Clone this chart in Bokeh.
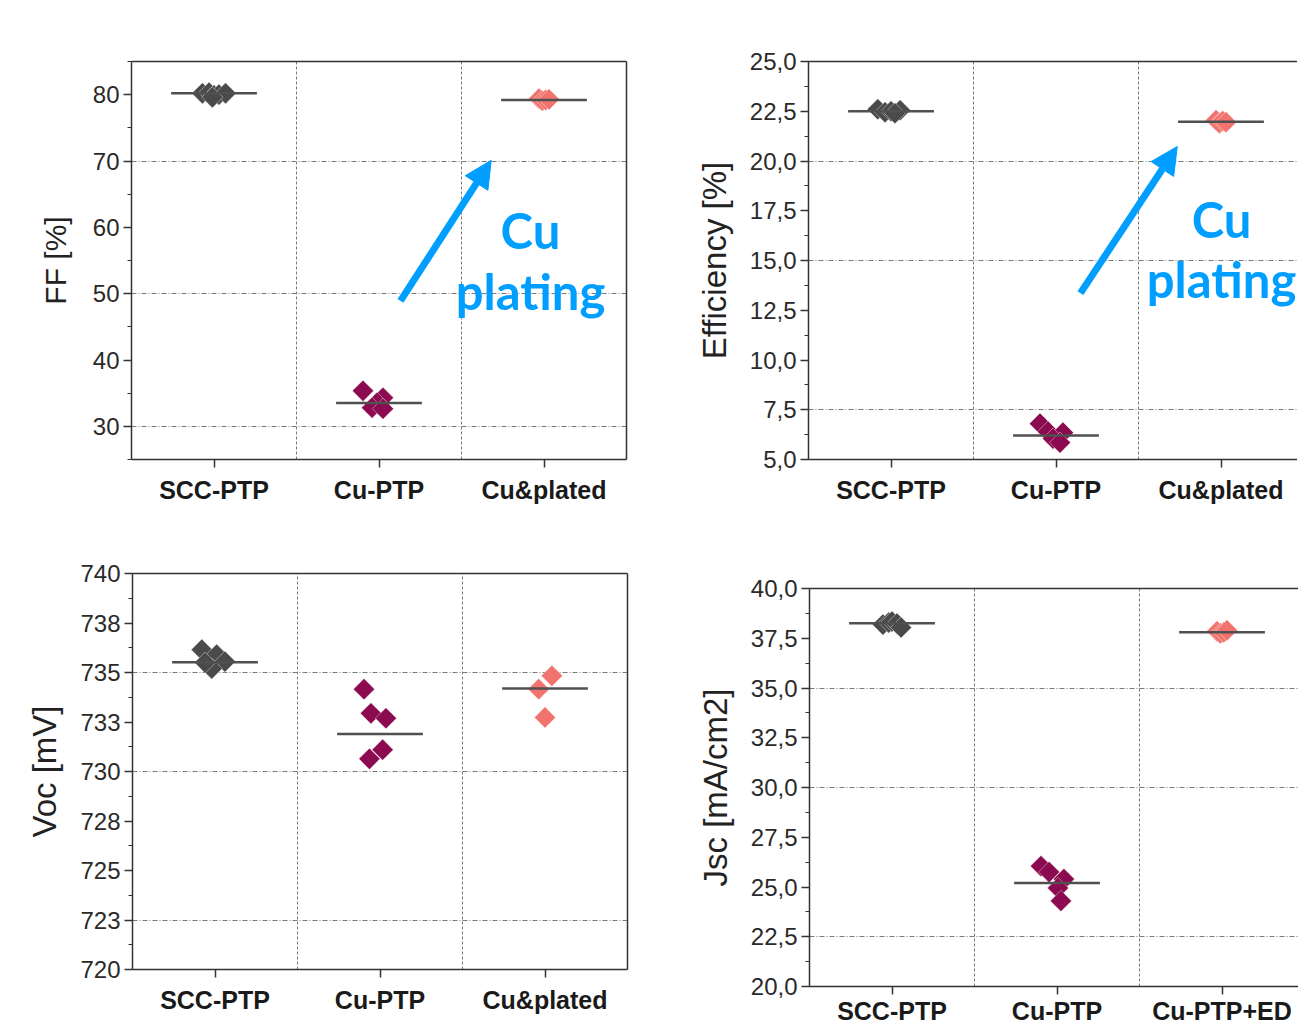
import numpy as np
from bokeh.plotting import figure
from bokeh.models import (Range1d, FixedTicker, SingleIntervalTicker, LinearAxis,
                          CustomJSTickFormatter, Label, Arrow, NormalHead, Spacer)
from bokeh.layouts import column, row
from bokeh.embed import file_html
from bokeh.resources import INLINE

# ---------------- data ----------------
groups_a = ["SCC-PTP", "Cu-PTP", "Cu&plated"]
groups_b = ["SCC-PTP", "Cu-PTP", "Cu-PTP+ED"]

# FF [%]
ff_scc = [80.2, 80.3, 79.9, 80.0, 80.2, 79.6]
ff_cu = [35.35, 34.3, 33.55, 32.8, 32.65]
ff_pl = [79.4, 79.1, 79.2, 79.3]
ff_med = [80.2, 33.5, 79.2]
ff_scc_jit = [-0.07, -0.03, 0.0, 0.03, 0.07, -0.01]
ff_cu_jit = [-0.097, 0.024, -0.012, -0.042, 0.024]
ff_pl_jit = [-0.03, -0.01, 0.01, 0.03]

# Efficiency [%]
eff_scc = [22.6, 22.45, 22.5, 22.55, 22.4]
eff_cu = [6.8, 6.4, 6.35, 6.05, 5.85]
eff_pl = [22.05, 21.9, 22.0, 21.95]
eff_med = [22.5, 6.2, 21.97]
eff_scc_jit = [-0.08, -0.036, 0.0, 0.055, 0.024]
eff_cu_jit = [-0.097, -0.048, 0.042, -0.018, 0.024]
eff_pl_jit = [-0.03, -0.01, 0.01, 0.03]

# Voc [mV]
voc_scc = [736.15, 735.9, 735.55, 735.2, 735.5]
voc_cu = [734.16, 732.94, 732.69, 731.1, 730.64]
voc_pl = [734.83, 734.16, 732.73]
voc_med = [735.52, 731.9, 734.19]
voc_scc_jit = [-0.08, 0.01, 0.06, -0.02, -0.06]
voc_cu_jit = [-0.097, -0.055, 0.036, 0.016, -0.064]
voc_pl_jit = [0.042, -0.038, 0.0]

# Jsc [mA/cm2]
jsc_scc = [38.19, 38.29, 38.34, 38.24, 38.04]
jsc_cu = [26.05, 25.75, 25.4, 24.95, 24.3]
jsc_ed = [37.85, 37.75, 37.8, 37.9]
jsc_med = [38.25, 25.2, 37.8]
jsc_scc_jit = [-0.055, -0.02, 0.0, 0.03, 0.055]
jsc_cu_jit = [-0.097, -0.048, 0.042, 0.006, 0.024]
jsc_ed_jit = [-0.03, -0.01, 0.01, 0.03]

# grid positions seen in the picture
ff_grid = [30, 50, 70]
eff_grid = [7.5, 15, 20]
voc_grid = [722.5, 730, 735]
jsc_grid = [22.5, 30, 35]

# ---------------- style ----------------
COLORS = ["#4a4a4a", "#8c0a4f", "#f0736e"]
BLUE = "#009fff"
AXC = "#333333"
FONT = "Liberation Sans"
PX = 165.0  # pixels per category


def frame_axis(p, loc):
    ax = LinearAxis(ticker=FixedTicker(ticks=[]),
                    major_tick_line_color=None, minor_tick_line_color=None,
                    axis_line_color=AXC, axis_line_width=1.5)
    p.add_layout(ax, loc)


def make_panel(vals, jits, meds, names, yr, interval, fmt_code, grid, title, title_size,
               fw, fh, L, R, T, B, right_line=True, title_standoff=14, xlabel_standoff=8):
    xend = 0.5 + fw / PX
    p = figure(frame_width=fw, frame_height=fh, min_border_left=L, min_border_right=R,
               min_border_top=T, min_border_bottom=B,
               x_range=Range1d(0.5, xend), y_range=Range1d(*yr),
               output_backend="svg", toolbar_location=None,
               outline_line_color=None, background_fill_color="white",
               border_fill_color="white")
    # grids
    p.xgrid.ticker = FixedTicker(ticks=[1.5, 2.5])
    p.ygrid.ticker = FixedTicker(ticks=grid)
    p.xgrid.grid_line_color = "#7a7a7a"
    p.xgrid.grid_line_dash = "3 2"
    p.xgrid.grid_line_width = 1
    p.ygrid.grid_line_color = "#7a7a7a"
    p.ygrid.grid_line_dash = "5 2 1 2"
    p.ygrid.grid_line_width = 1

    # y axis
    ya = p.yaxis[0]
    ya.ticker = SingleIntervalTicker(interval=interval, num_minor_ticks=2)
    ya.formatter = CustomJSTickFormatter(code=fmt_code)
    ya.axis_label = title
    ya.axis_label_text_font = FONT
    ya.axis_label_text_font_size = title_size
    ya.axis_label_text_font_style = "normal"
    ya.axis_label_text_color = "#222222"
    ya.axis_label_standoff = title_standoff
    ya.major_label_text_font = FONT
    ya.major_label_text_font_size = "24px"
    ya.major_label_text_color = "#2a2a2a"
    ya.major_label_standoff = 4
    ya.major_tick_out = 8
    ya.major_tick_in = 0
    ya.minor_tick_out = 4
    ya.minor_tick_in = 0
    ya.axis_line_color = AXC
    ya.axis_line_width = 1.5
    ya.major_tick_line_color = AXC
    ya.major_tick_line_width = 1.5
    ya.minor_tick_line_color = AXC
    ya.minor_tick_line_width = 1.2

    # x axis
    xa = p.xaxis[0]
    xa.ticker = FixedTicker(ticks=[1, 2, 3])
    xa.formatter = CustomJSTickFormatter(args=dict(names=names),
                                         code="return names[Math.round(tick) - 1];")
    xa.major_label_text_font = FONT
    xa.major_label_text_font_style = "bold"
    xa.major_label_text_font_size = "25px"
    xa.major_label_text_color = "#1a1a1a"
    xa.major_label_standoff = xlabel_standoff
    xa.major_tick_out = 8
    xa.major_tick_in = 0
    xa.minor_tick_line_color = None
    xa.axis_line_color = AXC
    xa.axis_line_width = 1.5
    xa.major_tick_line_color = AXC
    xa.major_tick_line_width = 1.5

    frame_axis(p, "above")
    if right_line:
        frame_axis(p, "right")

    # points
    for i, (v, j) in enumerate(zip(vals, jits)):
        xs = [i + 1 + d for d in j]
        p.scatter(xs, v, marker="square", angle=np.pi / 4, size=15,
                  fill_color=COLORS[i], line_color="white", line_width=0.8, line_alpha=0.5)
    # median lines
    cx = np.arange(1, len(meds) + 1)
    p.segment(x0=cx - 0.26, x1=cx + 0.26, y0=meds, y1=meds, line_color="#505050",
              line_width=2.5)
    return p


def annotate(p, x0, y0, x1, y1, tx, ty_cu, ty_pl):
    p.add_layout(Arrow(end=NormalHead(size=27, fill_color=BLUE, line_color=BLUE),
                       x_start=x0, y_start=y0, x_end=x1, y_end=y1,
                       line_color=BLUE, line_width=7))
    for t, ty in (("Cu", ty_cu), ("plating", ty_pl)):
        p.add_layout(Label(x=tx, y=ty, text=t, text_font="Lato", text_font_style="bold",
                           text_font_size="49px", text_color=BLUE, text_align="center",
                           text_baseline="alphabetic"))


int_fmt = "return tick.toFixed(0);"
comma_fmt = "return tick.toFixed(1).replace('.', ',');"
round_fmt = "return Math.round(tick).toString();"

p1 = make_panel([ff_scc, ff_cu, ff_pl], [ff_scc_jit, ff_cu_jit, ff_pl_jit], ff_med,
                groups_a, (25, 85), 10, int_fmt, ff_grid, "FF [%]", "30px",
                495, 398, 131, 60, 61, 50, title_standoff=18)
p2 = make_panel([eff_scc, eff_cu, eff_pl], [eff_scc_jit, eff_cu_jit, eff_pl_jit], eff_med,
                groups_a, (5, 25), 2.5, comma_fmt, eff_grid, "Efficiency [%]", "33px",
                489, 398, 122, 0, 61, 50, right_line=False)
p3 = make_panel([voc_scc, voc_cu, voc_pl], [voc_scc_jit, voc_cu_jit, voc_pl_jit], voc_med,
                groups_a, (720, 740), 2.5, round_fmt, voc_grid, "Voc [mV]", "33px",
                495, 396, 132, 59, 64, 56)
p4 = make_panel([jsc_scc, jsc_cu, jsc_ed], [jsc_scc_jit, jsc_cu_jit, jsc_ed_jit], jsc_med,
                groups_b, (20, 40), 2.5, comma_fmt, jsc_grid, "Jsc [mA/cm2]", "33px",
                489, 398, 123, 0, 64, 38, right_line=False, xlabel_standoff=2)

annotate(p1, 2.13, 48.9, 2.68, 70.1, 2.918, 59.6, 50.4)
annotate(p2, 2.148, 13.36, 2.735, 20.73, 3.003, 17.1, 14.05)

layout = column(row(p1, p2),
                row(column(p3), column(Spacer(width=10, height=15), p4)))

open("out.html", "w").write(file_html(layout, INLINE))
